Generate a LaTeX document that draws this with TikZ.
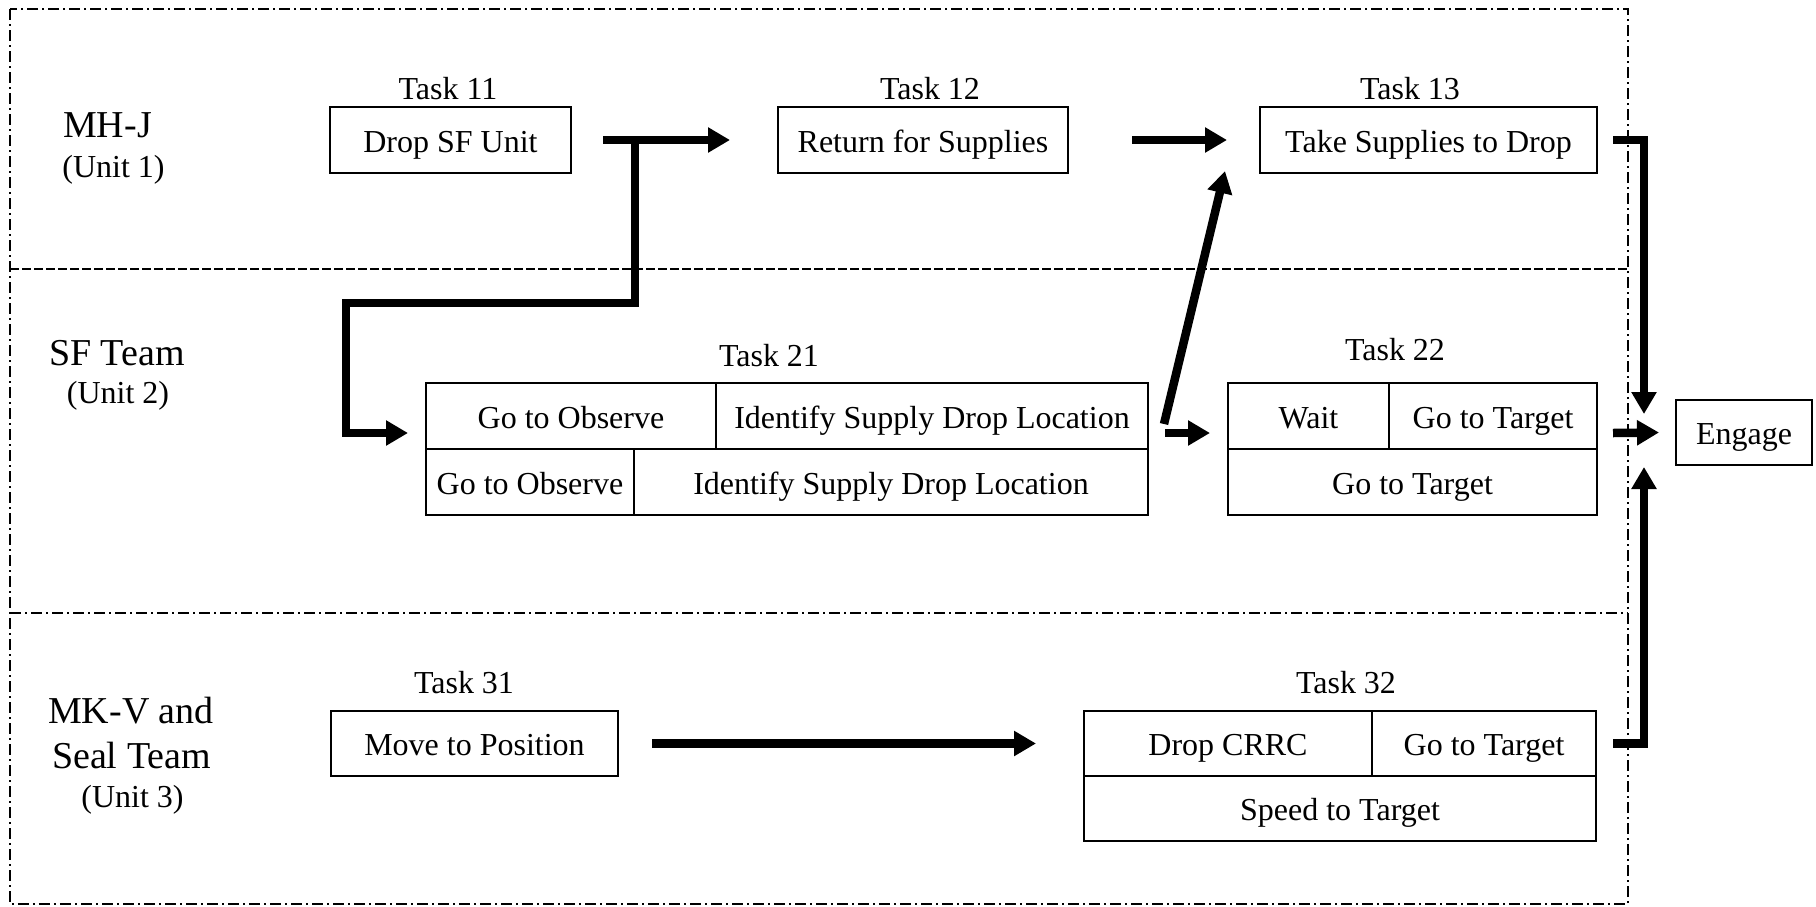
\documentclass[tikz,border=0pt]{standalone}
\usepackage{fontspec}
\setmainfont{Liberation Serif}
\usetikzlibrary{arrows.meta}
\tikzset{
  lanetitle/.style={font=\fontsize{38}{44}\selectfont, anchor=base, inner sep=0pt},
  unitname/.style={font=\fontsize{32}{38}\selectfont, anchor=base, inner sep=0pt},
  taskname/.style={font=\fontsize{32}{38}\selectfont, anchor=base, inner sep=0pt},
  cell/.style={draw, line width=2pt, font=\fontsize{32}{38}\selectfont, inner sep=0pt,
    text height=24pt, text depth=0pt, minimum height=66pt},
  flow/.style={line width=8.5pt, -{Triangle[width=24pt,length=22pt]}},
  laneframe/.style={line width=1.8pt, dash pattern=on 11pt off 4pt on 2pt off 4pt},
  lanesep/.style={line width=1.8pt, dash pattern=on 9pt off 3pt},
}
\begin{document}
\begin{tikzpicture}[x=1pt,y=-1pt]
\useasboundingbox (0,0) rectangle (1816,906);

% swim lanes
\draw[laneframe] (10,9) rectangle (1628,904);
\draw[lanesep] (10,269) -- (1628,269);
\draw[laneframe] (10,613) -- (1628,613);

% lane titles
\node[lanetitle] (l1) at (107.5,137) {MH-J};
\node[unitname] (u1) at (113.5,177) {(Unit 1)};
\node[lanetitle] (l2) at (117,365) {SF Team};
\node[unitname] (u2) at (118,403) {(Unit 2)};
\node[lanetitle] (l3a) at (131,723) {MK-V and};
\node[lanetitle] (l3b) at (131.5,768) {Seal Team};
\node[unitname] (u3) at (132.5,807) {(Unit 3)};

% unit 1 tasks
\node[taskname] (n11) at (448,99) {Task 11};
\node[cell, minimum width=241pt] (t11) at (450.5,140) {Drop SF Unit};
\node[taskname] (n12) at (930,99) {Task 12};
\node[cell, minimum width=290pt] (t12) at (923,140) {Return for Supplies};
\node[taskname] (n13) at (1410,99) {Task 13};
\node[cell, minimum width=337pt] (t13) at (1428.5,140) {Take Supplies to Drop};

% unit 2 tasks
\node[taskname] (n21) at (769,366) {Task 21};
\node[cell, minimum width=290pt] (t21a) at (571,416) {Go to Observe};
\node[cell, minimum width=432pt] (t21b) at (932,416) {Identify Supply Drop Location};
\node[cell, minimum width=208pt] (t21c) at (530,482) {Go to Observe};
\node[cell, minimum width=514pt] (t21d) at (891,482) {Identify Supply Drop Location};

\node[taskname] (n22) at (1395,360) {Task 22};
\node[cell, minimum width=161pt] (t22a) at (1308.5,416) {Wait};
\node[cell, minimum width=208pt] (t22b) at (1493,416) {Go to Target};
\node[cell, minimum width=369pt] (t22c) at (1412.5,482) {Go to Target};

% unit 3 tasks
\node[taskname] (n31) at (464,693) {Task 31};
\node[cell, minimum width=287pt, minimum height=65pt] (t31) at (474.5,743.5) {Move to Position};
\node[taskname] (n32) at (1346,693) {Task 32};
\node[cell, minimum width=288pt, minimum height=65pt] (t32a) at (1228,743.5) {Drop CRRC};
\node[cell, minimum width=224pt, minimum height=65pt] (t32b) at (1484,743.5) {Go to Target};
\node[cell, minimum width=512pt, minimum height=65pt] (t32c) at (1340,808.5) {Speed to Target};

% final task
\node[cell, minimum width=136pt, minimum height=65pt] (eng) at (1744,432.5) {Engage};

% flow between tasks
\coordinate (j1) at ([xshift=63pt]t11.east);
\draw[flow] ([xshift=31pt]t11.east) -- ([xshift=-47pt]t12.west);
\draw[flow] (j1) -- ++(0,163) -| ++(-289,130) -- ([xshift=-17pt,yshift=-17pt]t21a.west);
\draw[flow] ([xshift=63pt]t12.east) -- ([xshift=-32pt]t13.west);
\draw[flow] ([xshift=15pt,yshift=-8pt]t21b.east) -- ([xshift=-34pt,yshift=3pt]t13.south west);
\draw[flow] ([xshift=16pt,yshift=-17pt]t21b.east) -- ([xshift=-17pt,yshift=-17pt]t22a.west);
\draw[flow] ([xshift=15pt,yshift=-17pt]t22b.east) -- ([xshift=-16pt]eng.west);
\draw[flow] ([xshift=15pt]t13.east) -| ([xshift=-31pt,yshift=-15pt]eng.north west);
\draw[flow] ([xshift=16pt]t32b.east) -| ([xshift=-31pt,yshift=-1pt]eng.south west);
\draw[flow] ([xshift=33pt]t31.east) -- ([xshift=-47pt]t32a.west);
\end{tikzpicture}
\end{document}
